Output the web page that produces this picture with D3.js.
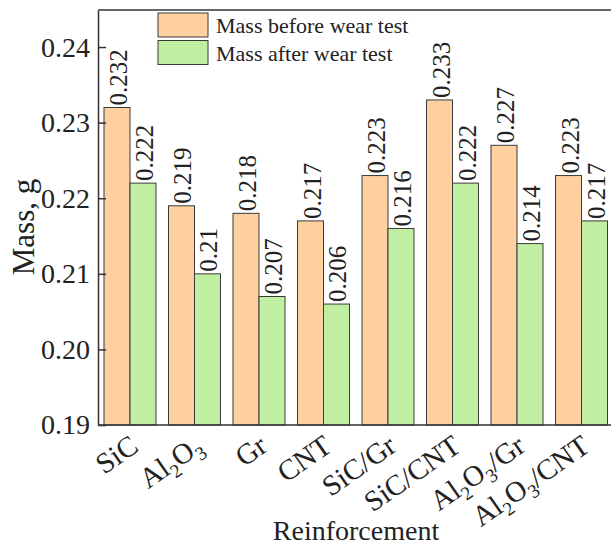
<!DOCTYPE html>
<meta charset="utf-8">
<title>Mass before and after wear test</title>
<style>
  body {
    margin: 0;
    padding: 0;
    background-color: #fff;
  }

  svg {
    display: block;
  }

  svg text {
    font-family: "Liberation Serif", "Times New Roman", serif;
    fill: #222;
  }

  .bar {
    stroke: #3a3a3a;
    stroke-width: 1;
  }

  .frame {
    stroke: #333;
    stroke-width: 1.5;
    fill: none;
  }

  .axis path,
  .axis line {
    stroke: #333;
    stroke-width: 1.5;
  }

  .axis text {
    font-size: 28px;
  }

  .vlabel {
    font-size: 25px;
  }

  .legend text {
    font-size: 22px;
  }
</style>

<body>
  <script src="https://cdn.jsdelivr.net/npm/d3@7"></script>

  <script>
    var categories = ["SiC", "Al2O3", "Gr", "CNT", "SiC/Gr", "SiC/CNT", "Al2O3/Gr", "Al2O3/CNT"];
    var massBefore = [0.232, 0.219, 0.218, 0.217, 0.223, 0.233, 0.227, 0.223];
    var massAfter = [0.222, 0.21, 0.207, 0.206, 0.216, 0.222, 0.214, 0.217];
    var seriesNames = ["Mass before wear test", "Mass after wear test"];
    var seriesColors = ["#fed0a0", "#c0eea2"];
    var yTicks = [0.19, 0.20, 0.21, 0.22, 0.23, 0.24];

    var width = 611,
      height = 546;

    // plot box (right edge falls just outside the picture)
    var plotL = 98, plotT = 10, plotB = 425, plotR = 613.5;

    var svg = d3.select("body").append("svg")
      .attr("width", width)
      .attr("height", height);

    var x = d3.scaleBand()
      .domain(categories)
      .range([plotL, plotR])
      .paddingInner(0.194)
      .paddingOuter(0.093);

    var xs = d3.scaleBand()
      .domain([0, 1])
      .range([0, x.bandwidth()]);

    var y = d3.scaleLinear()
      .domain([0.19, 0.2449])
      .range([plotB, plotT]);

    var rows = categories.map(function (c, i) {
      return { cat: c, values: [massBefore[i], massAfter[i]] };
    });

    // bars
    var groups = svg.append("g").attr("class", "bars")
      .selectAll("g").data(rows)
      .enter().append("g")
      .attr("transform", d => "translate(" + x(d.cat) + ",0)");

    groups.selectAll("rect")
      .data(d => d.values.map((v, k) => ({ k: k, v: v })))
      .enter().append("rect")
      .attr("class", "bar")
      .attr("x", d => xs(d.k))
      .attr("width", xs.bandwidth())
      .attr("y", d => y(d.v))
      .attr("height", d => plotB - y(d.v))
      .attr("fill", d => seriesColors[d.k]);

    // value labels, rotated
    groups.selectAll("text")
      .data(d => d.values.map((v, k) => ({ k: k, v: v })))
      .enter().append("text")
      .attr("class", "vlabel")
      .attr("transform", d => "translate(" + (xs(d.k) + xs.bandwidth() / 2 + 10) + "," + (y(d.v) - 2) + ") rotate(-90)")
      .attr("text-anchor", "start")
      .text(d => String(d.v));

    // y axis
    var yAxis = svg.append("g").attr("class", "axis")
      .attr("transform", "translate(" + plotL + ",0)")
      .call(d3.axisLeft(y)
        .tickValues(yTicks)
        .tickFormat(d3.format(".2f"))
        .tickSizeInner(-8)
        .tickSizeOuter(0)
        .tickPadding(8));
    yAxis.attr("font-family", null).attr("font-size", null);

    // frame: bottom and top lines
    svg.append("line").attr("class", "frame")
      .attr("x1", plotL).attr("x2", width)
      .attr("y1", plotB).attr("y2", plotB);
    svg.append("line").attr("class", "frame")
      .attr("x1", plotL).attr("x2", width)
      .attr("y1", plotT).attr("y2", plotT);

    // category labels with subscripts
    function addChem(sel, str) {
      var parts = str.split(/(\d)/).filter(p => p.length);
      var shifted = false;
      parts.forEach(function (p) {
        var t = sel.append("tspan").text(p);
        if (/\d/.test(p)) {
          t.attr("font-size", "66%").attr("dy", 7);
          shifted = true;
        } else if (shifted) {
          t.attr("dy", -7);
          shifted = false;
        }
      });
    }

    svg.append("g").attr("class", "xlabels")
      .selectAll("text").data(categories)
      .enter().append("text")
      .attr("transform", d => "translate(" + (x(d) + x.bandwidth() / 2 + 10) + ",450) rotate(-35)")
      .attr("text-anchor", "end")
      .style("font-size", "29px")
      .each(function (d) { addChem(d3.select(this), d); });

    // axis titles
    svg.append("text")
      .attr("x", 356)
      .attr("y", 540)
      .attr("text-anchor", "middle")
      .style("font-size", "28px")
      .text("Reinforcement");

    svg.append("text")
      .attr("transform", "translate(34,227) rotate(-90)")
      .attr("text-anchor", "middle")
      .style("font-size", "31px")
      .text("Mass, g");

    // legend
    var legend = svg.append("g").attr("class", "legend")
      .selectAll("g").data(seriesNames)
      .enter().append("g")
      .attr("transform", (d, i) => "translate(158," + (13 + i * 27.5) + ")");

    legend.append("rect")
      .attr("width", 50)
      .attr("height", 24)
      .attr("fill", (d, i) => seriesColors[i])
      .attr("stroke", "#3a3a3a")
      .attr("stroke-width", 1);

    legend.append("text")
      .attr("x", 58)
      .attr("y", 20)
      .text(d => d);
  </script>
</body>
